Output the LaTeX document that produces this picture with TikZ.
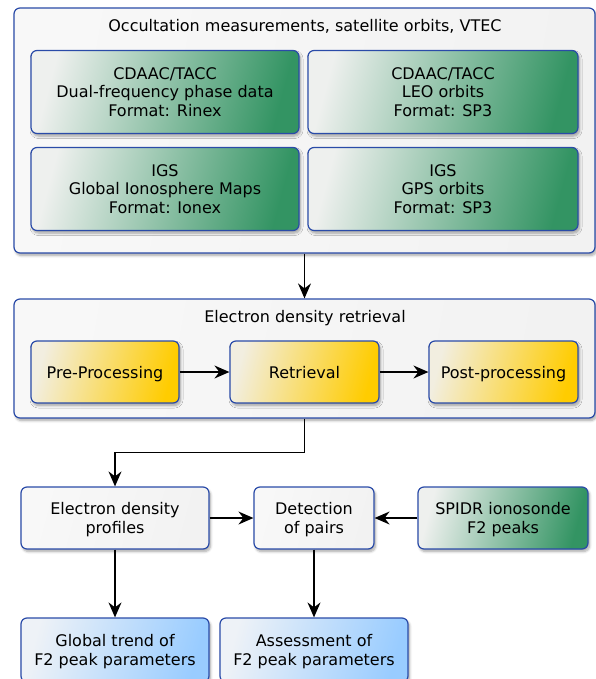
\documentclass[tikz,border=0pt]{standalone}
\usepackage{fontspec}
\setmainfont{DejaVu Sans}
\usetikzlibrary{arrows.meta,shadows.blur}
\definecolor{bordc}{HTML}{2A4BA8}
\definecolor{grn}{HTML}{339463}
\definecolor{grnl}{HTML}{EEF0EE}
\definecolor{yel}{HTML}{FFCC00}
\definecolor{yell}{HTML}{F2EEE0}
\definecolor{blu}{HTML}{99CCFF}
\definecolor{blul}{HTML}{EEF2F7}
\definecolor{gryl}{HTML}{F8F8F8}
\definecolor{gryd}{HTML}{F2F2F2}
\tikzset{
  base/.style={draw=bordc, line width=1.2pt, rounded corners=6pt, align=center,
    inner sep=0pt, font=\fontsize{16}{18.5}\selectfont,
    blur shadow={shadow xshift=1.5pt, shadow yshift=-2.5pt, shadow blur steps=6, shadow blur radius=2.5pt, shadow opacity=35}},
  nodepth/.style={text depth=0pt},
  container/.style={base, left color=gryl, right color=gryd, shading angle=80},
  greenbox/.style={base, left color=grnl, right color=grn, shading angle=75},
  yellowbox/.style={base, nodepth, left color=yell, right color=yel, shading angle=75},
  bluebox/.style={base, nodepth, left color=blul, right color=blu, shading angle=75},
  graybox/.style={base, nodepth, left color=gryl, right color=gryd, shading angle=75},
  ttl/.style={font=\fontsize{16}{18.5}\selectfont, inner sep=0pt},
  conn/.style={line width=1.3pt, -{Stealth[length=15pt, width=13pt, inset=5pt]}}
}
\begin{document}
\begin{tikzpicture}[x=1pt,y=-1pt]
\useasboundingbox (0,0) rectangle (596,679);
% containers
\node[container, minimum width=581pt, minimum height=245pt] (outer1) at (304.5,130.5) {};
\node[ttl] (t1) at (305,26) {Occultation measurements, satellite orbits, VTEC};
\node[greenbox, minimum width=268pt, minimum height=83pt] (c1) at (165,92) {CDAAC/TACC\\Dual-frequency phase data\\Format: Rinex};
\node[greenbox, minimum width=270pt, minimum height=83pt] (c2) at (443,92) {CDAAC/TACC\\LEO orbits\\Format: SP3};
\node[greenbox, minimum width=268pt, minimum height=83pt] (c3) at (165,189) {IGS\\Global Ionosphere Maps\\Format: Ionex};
\node[greenbox, minimum width=270pt, minimum height=83pt] (c4) at (443,189) {IGS\\GPS orbits\\Format: SP3};

\node[container, minimum width=581pt, minimum height=119pt] (outer2) at (304.5,358.5) {};
\node[ttl] (t2) at (305,318) {Electron density retrieval};
\node[yellowbox, minimum width=148pt, minimum height=62pt] (pre) at (105,372) {Pre-Processing};
\node[yellowbox, minimum width=149pt, minimum height=62pt] (ret) at (304.5,372) {Retrieval};
\node[yellowbox, minimum width=149pt, minimum height=62pt] (post) at (503.5,372) {Post-processing};

\node[graybox, minimum width=188pt, minimum height=62pt] (edp) at (115,518) {Electron density\\profiles};
\node[graybox, minimum width=120pt, minimum height=62pt] (det) at (314,518) {Detection\\of pairs};
\node[greenbox, nodepth, minimum width=170pt, minimum height=62pt] (spidr) at (503,518) {SPIDR ionosonde\\F2 peaks};

\node[bluebox, minimum width=188pt, minimum height=64pt] (gt) at (115,650) {Global trend of\\F2 peak parameters};
\node[bluebox, minimum width=188pt, minimum height=64pt] (as) at (314,650) {Assessment of\\F2 peak parameters};

% connectors
\draw[conn] (outer1.south) -- (outer2.north);
\draw[conn] (pre) -- (ret);
\draw[conn] (ret) -- (post);
\draw[conn] (outer2.south) -- ++(0,34) -| (edp.north);
\draw[conn] (edp) -- (det);
\draw[conn] (spidr) -- (det);
\draw[conn] (edp.south) -- (gt.north);
\draw[conn] (det.south) -- (as.north);
\end{tikzpicture}
\end{document}
